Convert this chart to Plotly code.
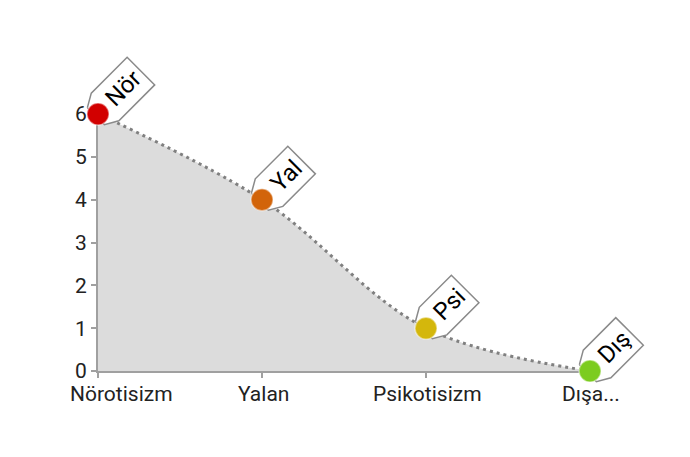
import math
import plotly.graph_objects as go

# ---------------- data ----------------
categories = ["Nörotisizm", "Yalan", "Psikotisizm", "Dışadönüklük"]
tick_labels = ["Nörotisizm", "Yalan", "Psikotisizm", "Dışa..."]
tag_labels = ["Nör", "Yal", "Psi", "Dış"]
values = [6, 4, 1, 0]
marker_colors = ["#d20000", "#d2640a", "#d4b70c", "#7ccc1f"]
y_ticks = [0, 1, 2, 3, 4, 5, 6]

# ---------------- layout constants ----------------
W, H = 690, 457
L_PX, R_PX, T_PX, B_PX = 98, 100, 114, 86
FONT = "Roboto"
FS = 21
TAG_FS = 24
AXIS_COL = "#a0a0a0"
XMAX = len(categories) - 1
YMAX = max(y_ticks)
pw = W - L_PX - R_PX
ph = H - T_PX - B_PX
pxx = pw / XMAX        # pixels per x unit
pxy = ph / YMAX        # pixels per y unit
xs = list(range(len(categories)))

# approximate Roboto advance widths (em)
CW = {"N": .712, "ö": .562, "r": .338, "Y": .631, "a": .544, "l": .242,
      "P": .631, "s": .516, "i": .243, "D": .655, "ı": .243, "ş": .516}


def text_w(t, fs):
    return sum(CW.get(c, .55) for c in t) * fs


fig = go.Figure()

# area + dotted spline
fig.add_trace(go.Scatter(
    x=xs, y=values, mode="lines", line=dict(shape="spline", color="#808080", width=3, dash="3px,4px"),
    fill="tozeroy", fillcolor="#dcdcdc", hoverinfo="skip", showlegend=False,
    xaxis="x", yaxis="y"))

# tag callouts (pentagon shapes) computed in pixel offsets -> data coords
S2 = math.sqrt(2)
annotations = []
for i, (xv, yv, lab) in enumerate(zip(xs, values, tag_labels)):
    Lr = text_w(lab, TAG_FS) + 12
    u0 = 10
    uv = [(-3, -12), (u0, -19.5), (u0 + Lr, -19.5), (u0 + Lr, 19.5), (u0, 19.5), (-3, 12), (-3, -12)]
    px = [xv + ((u + v) / S2) / pxx for u, v in uv]
    py = [yv + ((u - v) / S2) / pxy for u, v in uv]
    fig.add_trace(go.Scatter(
        x=px, y=py, mode="lines", fill="toself", fillcolor="white",
        line=dict(color="#8a8a8a", width=1.5), hoverinfo="skip", showlegend=False,
        xaxis="x2", yaxis="y2"))
    uc = u0 + Lr / 2 + 1
    annotations.append(dict(
        x=xv, y=yv, xref="x2", yref="y2", text=lab, showarrow=False,
        textangle=-45, xshift=uc / S2, yshift=uc / S2,
        xanchor="center", yanchor="middle",
        font=dict(family=FONT, size=TAG_FS, color="#000000")))

# x category labels (first one is shifted inward, as in the original)
for i, (xv, lab) in enumerate(zip(xs, tick_labels)):
    annotations.append(dict(
        x=xv, y=0, xref="x", yref="y", text=lab, showarrow=False,
        xanchor="center", yanchor="top", yshift=-9, xshift=23 if i == 0 else 1,
        font=dict(family=FONT, size=FS, color="#222222")))

# markers
fig.add_trace(go.Scatter(
    x=xs, y=values, mode="markers",
    marker=dict(size=22, color=marker_colors, line=dict(color="rgba(255,255,255,0.45)", width=1.5)),
    hoverinfo="skip", showlegend=False, xaxis="x2", yaxis="y2"))

axis_common = dict(showgrid=False, zeroline=False, showline=True, linecolor=AXIS_COL, linewidth=2,
                   ticks="outside", ticklen=5, tickwidth=1.5, tickcolor=AXIS_COL, automargin=False,
                   tickfont=dict(family=FONT, size=FS, color="#222222"))

fig.update_layout(
    width=W, height=H,
    margin=dict(l=0, r=0, t=0, b=0, autoexpand=False),
    paper_bgcolor="white", plot_bgcolor="rgba(0,0,0,0)",
    showlegend=False,
    xaxis=dict(domain=[L_PX / W, (W - R_PX) / W], range=[0, XMAX], tickvals=xs, showticklabels=False,
               anchor="y", **axis_common),
    yaxis=dict(domain=[B_PX / H, (H - T_PX) / H], range=[0, YMAX], tickvals=y_ticks,
               anchor="x", **axis_common),
    xaxis2=dict(domain=[0, 1], range=[-L_PX / pxx, (W - L_PX) / pxx], visible=False,
                anchor="y2", automargin=False),
    yaxis2=dict(domain=[0, 1], range=[-B_PX / pxy, (H - B_PX) / pxy], visible=False,
                anchor="x2", automargin=False),
    annotations=annotations,
)

fig.write_html("out.html")
